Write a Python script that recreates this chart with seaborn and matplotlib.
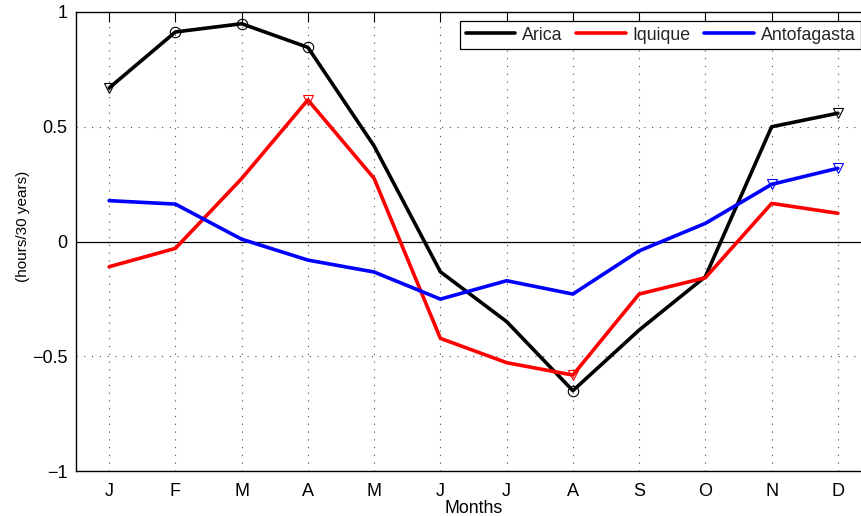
import matplotlib
matplotlib.use("Agg")
import matplotlib.pyplot as plt
import numpy as np
import pandas as pd
import seaborn as sns

# Monthly trends of sunshine duration (hours per 30 years)
month_labels = ["J", "F", "M", "A", "M", "J", "J", "A", "S", "O", "N", "D"]
month_num = list(range(1, 13))

arica = [0.669, 0.913, 0.949, 0.846, 0.416, -0.132, -0.349, -0.650,
         -0.386, -0.153, 0.500, 0.559]
iquique = [-0.110, -0.030, 0.274, 0.617, 0.275, -0.422, -0.528, -0.582,
           -0.229, -0.158, 0.166, 0.123]
antofagasta = [0.178, 0.163, 0.010, -0.081, -0.133, -0.251, -0.171, -0.229,
               -0.041, 0.079, 0.249, 0.319]

# months flagged with markers (circle / down-triangle)
arica_circles = [2, 3, 4, 8]
arica_triangles = [1, 12]
iquique_triangles = [4, 8]
antofagasta_triangles = [11, 12]

stations = ["Arica", "Iquique", "Antofagasta"]
colors = {"Arica": "#000000", "Iquique": "#ff0000", "Antofagasta": "#0000ff"}

df = pd.DataFrame({
    "month": month_num * 3,
    "value": arica + iquique + antofagasta,
    "station": ["Arica"] * 12 + ["Iquique"] * 12 + ["Antofagasta"] * 12,
})

sns.set_theme(style="white")
plt.rcParams["font.family"] = ["Liberation Sans", "DejaVu Sans"]
plt.rcParams["axes.unicode_minus"] = True

fig = plt.figure(figsize=(8.61, 5.16), dpi=100)
ax = fig.add_axes([76 / 861, 45 / 516, 795 / 861, 459 / 516])

sns.lineplot(data=df, x="month", y="value", hue="station", hue_order=stations,
             palette=colors, linewidth=2.6, ax=ax, legend=True, zorder=3)


def mark(values, months, color, marker):
    ys = [values[m - 1] for m in months]
    ax.plot(months, ys, linestyle="none", marker=marker, markersize=7.5,
            markerfacecolor="none", markeredgecolor=color,
            markeredgewidth=0.8, zorder=4)


mark(arica, arica_circles, "black", "o")
mark(arica, arica_triangles, "black", "v")
mark(iquique, iquique_triangles, "red", "v")
mark(antofagasta, antofagasta_triangles, "blue", "v")

ax.axhline(0, color="black", linewidth=0.9, zorder=2)

ax.set_xlim(0.5, 12.5)
ax.set_ylim(-1, 1)
ax.set_xticks(month_num)
ax.set_xticklabels(month_labels)
ax.set_yticks([-1, -0.5, 0, 0.5, 1])
ax.set_yticklabels(["\u22121", "\u22120.5", "0", "0.5", "1"])

ax.grid(True, which="major", color="0.3", linestyle=(0, (1, 6)),
        linewidth=0.8)
ax.set_axisbelow(True)

for side in ["left", "bottom", "top", "right"]:
    ax.spines[side].set_visible(True)
    ax.spines[side].set_color("black")
    ax.spines[side].set_linewidth(1.0)

ax.tick_params(axis="both", direction="in", length=7.5, width=0.8,
               colors="black", labelsize=13, top=True, right=True)
ax.tick_params(axis="x", pad=8.5)
ax.tick_params(axis="y", pad=6)

ax.set_xlabel("Months", fontsize=12.8, color="black")
ax.set_ylabel("(hours/30 years)", fontsize=11, color="black")
ax.xaxis.set_label_coords(0.5, -0.064)
ax.yaxis.set_label_coords(-0.058, 0.532)

leg = ax.legend(loc="upper right", bbox_to_anchor=((861 - 76) / 795, (471 - 21) / 459),
                borderaxespad=0, ncol=3, fontsize=12.8, frameon=True,
                fancybox=False, handlelength=2.8, handletextpad=0.38,
                columnspacing=0.75, borderpad=0.32)
leg.get_frame().set_edgecolor("black")
leg.get_frame().set_linewidth(0.9)
leg.get_frame().set_alpha(1)
for line in leg.get_lines():
    line.set_linewidth(2.6)

fig.savefig("out.png", dpi=100)
